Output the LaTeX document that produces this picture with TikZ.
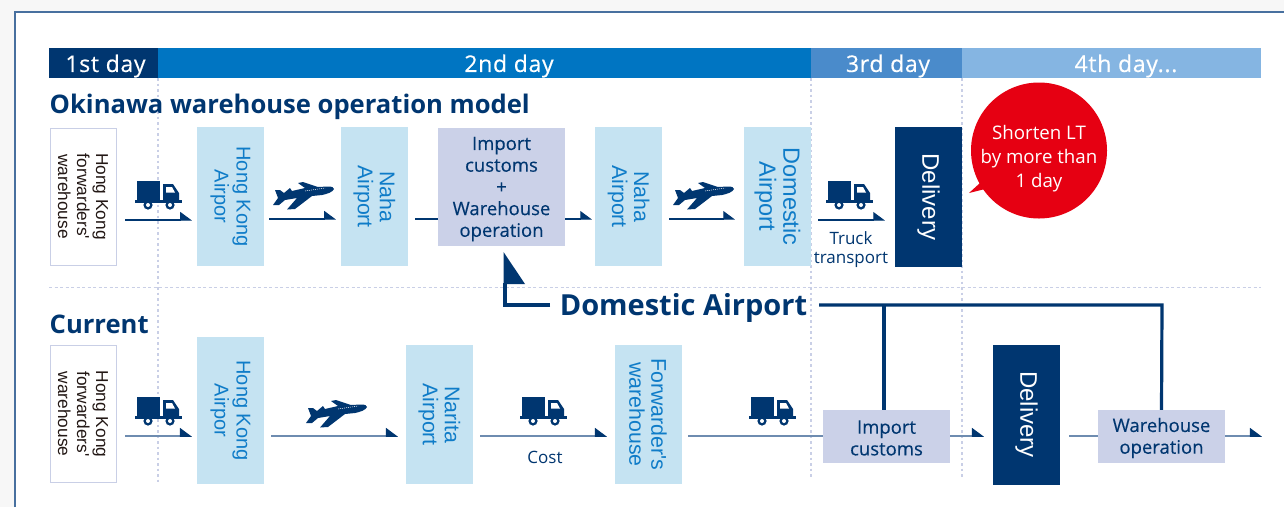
\documentclass[tikz,border=0pt]{standalone}
\usepackage{fontspec}
\setmainfont{Open Sans}
\newfontfamily\hv{Liberation Sans}
\usetikzlibrary{arrows.meta}
\definecolor{navy}{HTML}{003670}
\definecolor{dayb}{HTML}{0075C2}
\definecolor{dayc}{HTML}{4A8BCB}
\definecolor{dayd}{HTML}{85B5E2}
\definecolor{lightb}{HTML}{C5E3F2}
\definecolor{lilac}{HTML}{CBD1E8}
\definecolor{edge}{HTML}{C9CFE6}
\definecolor{txtblue}{HTML}{0F7CC8}
\definecolor{redd}{HTML}{E60012}
\definecolor{ink}{HTML}{231815}
\definecolor{frame}{HTML}{48709F}
\definecolor{softline}{HTML}{6E8CB0}
\tikzset{
  x=1pt,y=-1pt,
  daybar/.style={inner sep=0,anchor=center,text=white,font=\fontsize{23}{24}\selectfont\addfontfeatures{LetterSpace=3,FakeBold=0.4}},
  heading/.style={inner sep=0,anchor=west,text=navy,font=\fontsize{25.6}{28}\bfseries\selectfont},
  vbox/.style={inner sep=0,rotate=-90,align=center},
  air/.style={vbox,fill=lightb,text=txtblue,minimum width=139,minimum height=67,font=\hv\fontsize{20}{22}\selectfont},
  airwide/.style={air,font=\hv\fontsize{21.3}{22}\selectfont},
  airlarge/.style={air,font=\hv\fontsize{23.5}{24}\selectfont},
  wh/.style={vbox,draw=edge,line width=1,fill=white,text=ink,minimum width=137,minimum height=66,font=\hv\fontsize{17.3}{19}\selectfont},
  deliver/.style={vbox,fill=navy,text=white,minimum width=140,minimum height=67,font=\hv\fontsize{24}{26}\selectfont},
  lilacbox/.style={inner sep=0,fill=lilac,text=navy,align=center,minimum width=127,font=\fontsize{18.5}{21.7}\selectfont\addfontfeatures{FakeBold=0.3}},
  small/.style={inner sep=0,text=navy,align=center,font=\fontsize{17}{19}\selectfont},
  flow/.style={line width=1.1,draw=navy,-{Triangle[left,length=11pt,width=16pt,color=navy,fill=navy]}},
  softflow/.style={line width=1.5,draw=softline,-{Triangle[left,length=11pt,width=16pt,color=navy,fill=navy]}},
  plain/.style={line width=1.1,draw=navy},
  softplain/.style={line width=1.5,draw=softline},
  guide/.style={draw=edge,line width=1.1,dash pattern=on 2.5pt off 3pt},
  thinguide/.style={draw=edge,line width=.8,dash pattern=on 3pt off 2.5pt},
  bracket/.style={draw=navy,line width=3.2},
  truck/.pic={
    \fill[navy] (0,0) rectangle (23,19);
    \fill[navy] (26,3) -- (36,3) -- (42,12) -- (42,19) -- (26,19) -- cycle;
    \fill[white] (29,6) -- (35,6) -- (38,11.5) -- (29,11.5) -- cycle;
    \fill[navy] (-2,19) rectangle (45,22);
    \fill[navy] (11,24) circle (4.6);
    \fill[navy] (33,24) circle (4.6);
    \fill[white] (11,24) circle (2);
    \fill[white] (33,24) circle (2);
  },
  plane/.pic={
    \fill[navy] (61,7) .. controls (60,10) and (54,12) .. (49,13)
      -- (39,14) -- (22,27) -- (14,27.5) -- (24,16) -- (12,18) -- (6,23) -- (0,23)
      -- (5,16) -- (2,8) -- (7,8) -- (11,11) -- (17,6) -- (19,9) -- (32,6)
      -- (25,1) -- (30,0) -- (45,5) -- (55,4.5) .. controls (59,4.5) and (61,5.5) .. (61,7) -- cycle;
    \draw[white,line width=.5,dash pattern=on 1pt off 1pt] (32,9) -- (52,6);
  }
}
\begin{document}
\begin{tikzpicture}
\useasboundingbox (0,0) rectangle (1284,507);
\fill[white!97!black] (0,0) rectangle (1284,507);
\fill[white] (15,12) rectangle (1284,507);
\draw[frame,line width=1.5] (15,507) -- (15,12) -- (1284,12);

% day bars
\fill[navy] (49,48) rectangle (158,78);
\fill[dayb] (158,48) rectangle (811,78);
\fill[dayc] (811,48) rectangle (962,78);
\fill[dayd] (962,48) rectangle (1261,78);
\node[daybar] (d1) at (105.5,66) {1st day};
\node[daybar] (d2) at (509,66) {2nd day};
\node[daybar] (d3) at (888,66) {3rd day};
\node[daybar] (d4) at (1126,66) {4th day...};

% guides
\coordinate (ga1) at (158,78); \coordinate (ga2) at (158,484);
\coordinate (gb1) at (811,78); \coordinate (gb2) at (811,478);
\coordinate (gc1) at (962,78); \coordinate (gc2) at (962,478);
\coordinate (gh1) at (49,287); \coordinate (gh2) at (1261,287);
\draw[guide] (ga1) -- (ga2);
\draw[guide] (gb1) -- (gb2);
\draw[guide] (gc1) -- (gc2);
\draw[thinguide] (gh1) -- (gh2);

\node[heading] (t1) at (49.5,106.5) {Okinawa warehouse operation model};
\node[heading] (t2) at (49.5,324.5) {Current};

% top row
\node[wh] (a1) at (83,196.5) {Hong Kong\\forwarders'\\warehouse};
\node[air] (a2) at (230.5,196.5) {Hong Kong\\Airpor};
\node[airwide] (a3) at (374.5,196.5) {Naha\\Airport};
\node[lilacbox,minimum height=118] (a4) at (501.5,187) {};
\node[lilacbox,fill=none] (a4t) at (501.5,189) {Import\\customs\\+\\Warehouse\\operation};
\node[airwide] (a5) at (628.5,196.5) {Naha\\Airport};
\node[airlarge] (a6) at (777.5,196.5) {Domestic\\Airport};
\node[deliver] (a7) at (928.5,197) {Delivery};
\node[small] (tt) at (851,249.5) {Truck\\transport};

\pic at (137,181) {truck};
\pic at (828,181) {truck};
\pic at (273,182) {plane};
\pic at (673,182) {plane};

\coordinate (p1) at (125,220); \coordinate (p2) at (192,220);
\coordinate (p3) at (269,219); \coordinate (p4) at (336,219);
\coordinate (p5) at (415,219); \coordinate (p6) at (438,219);
\coordinate (p7) at (565,219); \coordinate (p8) at (592,219);
\coordinate (p9) at (669,219); \coordinate (p10) at (735,219);
\coordinate (p11) at (818,220); \coordinate (p12) at (885,220);
\draw[flow] (p1) -- (p2);
\draw[flow] (p3) -- (p4);
\draw[plain] (p5) -- (p6);
\draw[flow] (p7) -- (p8);
\draw[flow] (p9) -- (p10);
\draw[flow] (p11) -- (p12);

% bubble
\fill[redd] (1039,150.5) circle (68);
\node[inner sep=0,text=white,align=center,
  font=\fontsize{18.7}{24}\selectfont] (bub) at (1039,158.5) {Shorten LT\\by more than\\1 day};
\coordinate (bt) at (969,193);
\fill[redd] (bt) -- (980,183) -- (985,189) -- cycle;

% bottom row
\node[wh] (b1) at (83,414) {Hong Kong\\forwarders'\\warehouse};
\node[air,minimum width=147] (b2) at (230.5,410.5) {Hong Kong\\Airpor};
\node[airwide] (b3) at (439.5,414.5) {Narita\\Airport};
\node[airwide] (b4) at (648,414.5) {Forwarder's\\warehouse};
\node[lilacbox,minimum height=53] (b5) at (886.5,436.5) {};
\node[lilacbox,fill=none] (b5t) at (886.5,438) {Import\\customs};
\node[deliver] (b6) at (1026.5,414.5) {Delivery};
\node[lilacbox,minimum height=53] (b7) at (1161.5,436.5) {};
\node[lilacbox,fill=none] (b7t) at (1161.5,438) {Warehouse\\operation};
\node[small] (cost) at (545,457.5) {Cost};

\pic at (137,397) {truck};
\pic at (522,397) {truck};
\pic at (751,397) {truck};
\pic at (306,400) {plane};

\coordinate (q1) at (125,436); \coordinate (q2) at (192,436);
\coordinate (q3) at (271,436); \coordinate (q4) at (398,436);
\coordinate (q5) at (480,436); \coordinate (q6) at (607,436);
\coordinate (q7) at (688,436); \coordinate (q8) at (823,436);
\coordinate (q9) at (950,436); \coordinate (q10) at (984,436);
\coordinate (q11) at (1069,436); \coordinate (q12) at (1098,436);
\coordinate (q13) at (1225,436); \coordinate (q14) at (1262,436);
\draw[softflow] (q1) -- (q2);
\draw[softflow] (q3) -- (q4);
\draw[softflow] (q5) -- (q6);
\draw[softplain] (q7) -- (q8);
\draw[softflow] (q9) -- (q10);
\draw[softplain] (q11) -- (q12);
\draw[softflow] (q13) -- (q14);

% Domestic Airport callout
\node[inner sep=0,text=navy,font=\fontsize{29}{31}\bfseries\selectfont] (dom) at (683.5,308) {Domestic Airport};
\coordinate (c1) at (550,305); \coordinate (c2) at (505,305); \coordinate (c3) at (505,283);
\coordinate (tip) at (503.5,252); \coordinate (tr) at (525,284); \coordinate (tl) at (503.5,284);
\draw[bracket] (c1) -- (c2) -- (c3);
\fill[navy] (tip) -- (tr) -- (tl) -- cycle;
\coordinate (e1) at (819,305); \coordinate (e2) at (1162,305);
\coordinate (e3) at (884,305);
\draw[bracket] (e1) -- (e2) -- (b7.north);
\draw[bracket] (e3) -- (e3 |- b5.north);
\end{tikzpicture}
\end{document}
